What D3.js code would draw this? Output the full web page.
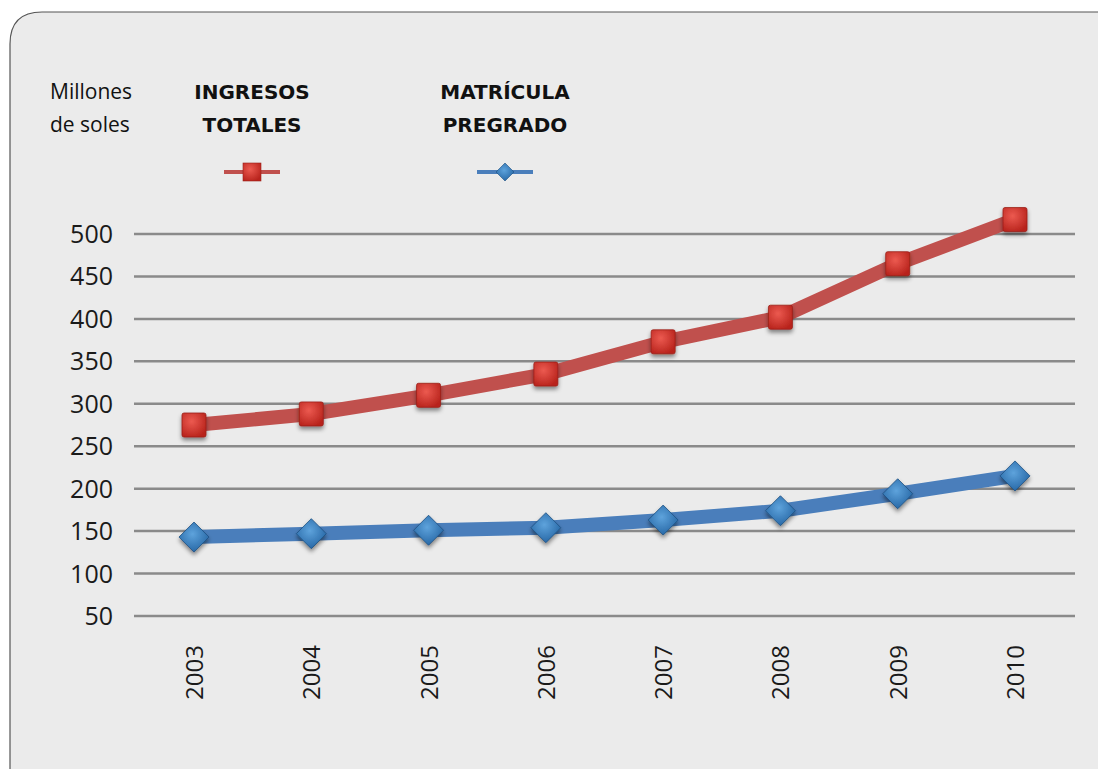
<!DOCTYPE html>
<html>
<head>
<meta charset="utf-8">
<script src="https://cdn.jsdelivr.net/npm/d3@7"></script>
<style>
  body { margin: 0; background: #fff; }
  svg { display: block; }
</style>
</head>
<body>
<svg id="viz" width="1098" height="769"></svg>
<script>
const years = ["2003", "2004", "2005", "2006", "2007", "2008", "2009", "2010"]
const ingresos = [275, 288, 310, 335, 373, 402, 465, 517]
const matricula = [143, 147, 151, 154, 163, 174, 194, 215]
const yTicks = [50, 100, 150, 200, 250, 300, 350, 400, 450, 500]

const svg = d3.select("#viz")

// defs: gradients and shadow for markers
const defs = svg.append("defs")
const redGrad = defs.append("radialGradient").attr("id", "redG").attr("cx", "40%").attr("cy", "35%").attr("r", "70%")
redGrad.append("stop").attr("offset", "0%").attr("stop-color", "#ec5a50")
redGrad.append("stop").attr("offset", "100%").attr("stop-color", "#b8231c")
const blueGrad = defs.append("radialGradient").attr("id", "blueG").attr("cx", "45%").attr("cy", "40%").attr("r", "70%")
blueGrad.append("stop").attr("offset", "0%").attr("stop-color", "#5ea3dc")
blueGrad.append("stop").attr("offset", "100%").attr("stop-color", "#1f5f9e")
const shadow = defs.append("filter").attr("id", "shadow").attr("x", "-50%").attr("y", "-50%").attr("width", "200%").attr("height", "200%")
shadow.append("feDropShadow").attr("dx", 0).attr("dy", 3).attr("stdDeviation", 2).attr("flood-color", "#000").attr("flood-opacity", 0.45)

// panel
svg.append("path")
    .attr("d", "M10,1100 L10,44 Q10,12 42,12 L1110,12 L1110,1100 Z")
    .attr("fill", "#ebebeb")
    .attr("stroke", "#555")
    .attr("stroke-width", 1.2)

const x = d3.scalePoint().domain(years).range([194, 1015])
const y = d3.scaleLinear().domain([50, 500]).range([616, 234])

// grid
svg.append("g")
    .selectAll("line")
    .data(yTicks)
    .join("line")
    .attr("x1", 134)
    .attr("x2", 1075)
    .attr("y1", d => y(d))
    .attr("y2", d => y(d))
    .attr("stroke", "#8a8a8a")
    .attr("stroke-width", 2.5)

// y labels
svg.append("g")
    .selectAll("text")
    .data(yTicks)
    .join("text")
    .attr("x", 113)
    .attr("y", d => y(d) + 9)
    .attr("text-anchor", "end")
    .attr("font-family", "'Open Sans', sans-serif")
    .attr("font-size", 25)
    .attr("fill", "#1a1a1a")
    .text(d => d)

// x labels
svg.append("g")
    .selectAll("text")
    .data(years)
    .join("text")
    .attr("transform", d => `translate(${x(d) + 9},645) rotate(-90)`)
    .attr("text-anchor", "end")
    .attr("font-family", "'Open Sans', sans-serif")
    .attr("font-size", 24)
    .attr("fill", "#1a1a1a")
    .text(d => d)

const line = d3.line().x((d, i) => x(years[i])).y(d => y(d))

svg.append("path")
    .datum(ingresos)
    .attr("d", line)
    .attr("fill", "none")
    .attr("stroke", "#c0504d")
    .attr("stroke-width", 14)

svg.append("path")
    .datum(matricula)
    .attr("d", line)
    .attr("fill", "none")
    .attr("stroke", "#4a7ebb")
    .attr("stroke-width", 14)

const sq = 24
svg.append("g")
    .selectAll("rect")
    .data(ingresos)
    .join("rect")
    .attr("x", (d, i) => x(years[i]) - sq / 2)
    .attr("y", d => y(d) - sq / 2)
    .attr("width", sq)
    .attr("height", sq)
    .attr("rx", 2)
    .attr("fill", "url(#redG)")
    .attr("stroke", "#9a1f18")
    .attr("stroke-width", 0.8)
    .attr("filter", "url(#shadow)")

const dm = 15
const diamond = (cx, cy, r) => `M${cx},${cy - r} L${cx + r},${cy} L${cx},${cy + r} L${cx - r},${cy} Z`
svg.append("g")
    .selectAll("path")
    .data(matricula)
    .join("path")
    .attr("d", (d, i) => diamond(x(years[i]), y(d), dm))
    .attr("fill", "url(#blueG)")
    .attr("stroke", "#1d4f80")
    .attr("stroke-width", 0.8)
    .attr("filter", "url(#shadow)")

// legend / header
const header = svg.append("g").attr("fill", "#111")
header.append("text").attr("x", 50).attr("y", 99).attr("font-family", "'Open Sans', sans-serif").attr("font-size", 21).text("Millones")
header.append("text").attr("x", 50).attr("y", 132).attr("font-family", "'Open Sans', sans-serif").attr("font-size", 21).text("de soles")

const legendItems = [
    { lines: ["INGRESOS", "TOTALES"], cx: 252, color: "#c0504d", shape: "square" },
    { lines: ["MATRÍCULA", "PREGRADO"], cx: 505, color: "#4a7ebb", shape: "diamond" }
]
legendItems.forEach(it => {
    it.lines.forEach((t, k) => {
        header.append("text")
            .attr("x", it.cx)
            .attr("y", 99 + k * 33)
            .attr("text-anchor", "middle")
            .attr("font-family", "'DejaVu Sans', sans-serif")
            .attr("font-size", 20)
            .attr("font-weight", "bold")
            .text(t)
    })
    header.append("line")
        .attr("x1", it.cx - 28).attr("x2", it.cx + 28)
        .attr("y1", 172).attr("y2", 172)
        .attr("stroke", it.color).attr("stroke-width", 4)
    if (it.shape === "square") {
        header.append("rect")
            .attr("x", it.cx - 9).attr("y", 163).attr("width", 18).attr("height", 18)
            .attr("fill", "url(#redG)").attr("stroke", "#9a1f18").attr("stroke-width", 0.6)
    } else {
        header.append("path")
            .attr("d", diamond(it.cx, 172, 9))
            .attr("fill", "url(#blueG)").attr("stroke", "#1d4f80").attr("stroke-width", 0.6)
    }
})
</script>
</body>
</html>
